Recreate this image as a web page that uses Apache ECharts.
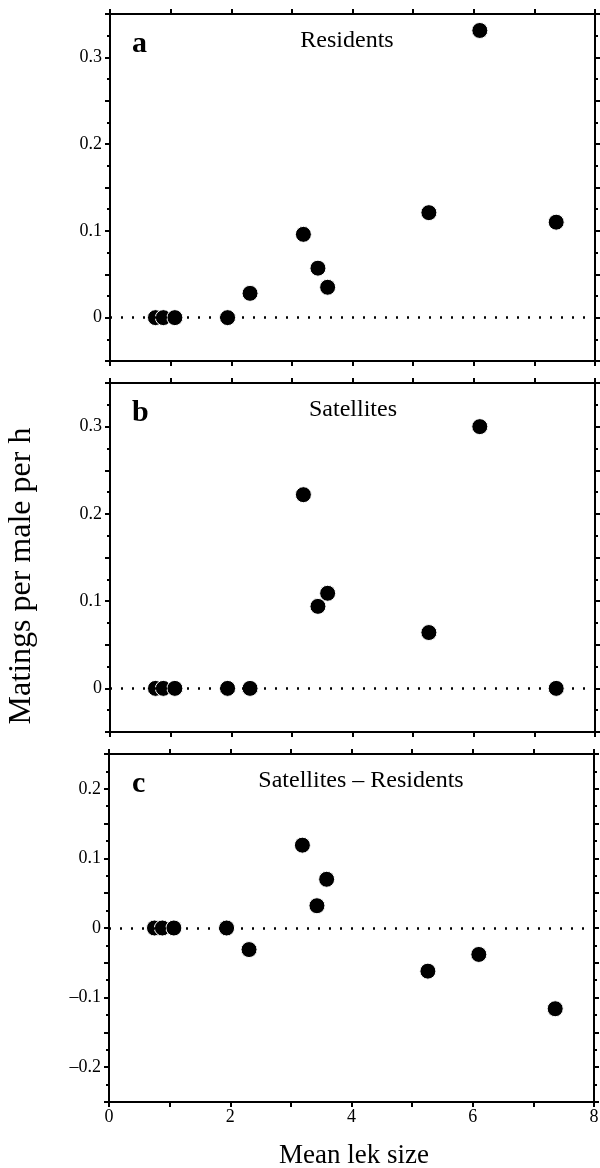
<!DOCTYPE html>
<html>
<head>
<meta charset="utf-8">
<script src="https://cdn.jsdelivr.net/npm/echarts@6/dist/echarts.min.js"></script>
<style>
  html, body { margin: 0; padding: 0; background: #fff; }
  #main { width: 600px; height: 1168px; }
</style>
</head>
<body>
<div id="main"></div>
<script>
// mean lek size of each lek (shared by the three panels)
var lekSize = [0.75, 0.88, 1.07, 1.94, 2.31, 3.19, 3.43, 3.59, 5.26, 6.1, 7.36];
// matings per male per h
var residents = [0, 0, 0, 0, 0.028, 0.096, 0.057, 0.035, 0.121, 0.331, 0.110];
var satellites = [0, 0, 0, 0, 0, 0.222, 0.094, 0.109, 0.064, 0.300, 0];
var difference = [0, 0, 0, 0, -0.031, 0.119, 0.032, 0.070, -0.062, -0.038, -0.116];

var panelLetters = ['a', 'b', 'c'];
var panelTitles = ['Residents', 'Satellites', 'Satellites \u2013 Residents'];
var yRanges = [[-0.05, 0.35], [-0.05, 0.35], [-0.25, 0.25]];
var xRange = [0, 8];

var FONT = '"Liberation Serif", "DejaVu Serif", serif';
var grids = [
  { left: 110, right: 5, top: 14, height: 347 },
  { left: 110, right: 5, top: 383, height: 349 },
  { left: 109, right: 6, top: 754, height: 348 }
];

function yLabel(v) {
  var r = Math.round(v * 10);
  if (Math.abs(v * 10 - r) > 1e-6) return '';
  if (r === 0) return '0';
  return (r < 0 ? '\u2013' : '') + (Math.abs(r) / 10).toFixed(1);
}

var lineStyle = { color: '#000', width: 2 };
var xAxes = [], yAxes = [], series = [], graphics = [];

grids.forEach(function (g, i) {
  g.outerBoundsMode = 'none';
  g.containLabel = false;
  var last = i === grids.length - 1;
  ['bottom', 'top'].forEach(function (pos) {
    xAxes.push({
      type: 'value', gridIndex: i, position: pos,
      min: xRange[0], max: xRange[1], interval: 1,
      axisLine: { show: true, onZero: false, lineStyle: lineStyle },
      axisTick: { show: true, inside: false, length: 5, lineStyle: lineStyle },
      axisLabel: {
        show: last && pos === 'bottom', margin: 6,
        color: '#000', fontFamily: FONT, fontSize: 18,
        formatter: function (v) { return v % 2 === 0 ? String(v) : ''; }
      },
      splitLine: { show: false }
    });
  });
  ['left', 'right'].forEach(function (pos) {
    yAxes.push({
      type: 'value', gridIndex: i, position: pos,
      min: yRanges[i][0], max: yRanges[i][1], interval: 0.05,
      axisLine: { show: true, onZero: false, lineStyle: lineStyle },
      axisTick: { show: true, inside: false, length: 5, lineStyle: lineStyle },
      minorTick: { show: true, splitNumber: 2, length: 3, lineStyle: { color: '#000', width: 2 } },
      axisLabel: {
        show: pos === 'left', margin: 8,
        color: '#000', fontFamily: FONT, fontSize: 18,
        formatter: yLabel
      },
      splitLine: { show: false }
    });
  });

  // dotted zero line
  series.push({
    type: 'line', xAxisIndex: i * 2, yAxisIndex: i * 2, data: [], z: 1,
    silent: true,
    markLine: {
      silent: true, symbol: ['none', 'none'], animation: false,
      label: { show: false },
      lineStyle: { color: '#000', width: 2.5, type: [2, 9] },
      emphasis: { disabled: true },
      data: [{ yAxis: 0 }]
    }
  });

  var values = [residents, satellites, difference][i];
  series.push({
    type: 'scatter', xAxisIndex: i * 2, yAxisIndex: i * 2, z: 3,
    symbol: 'circle', symbolSize: 16,
    itemStyle: { color: '#000', borderColor: '#fff', borderWidth: 1, opacity: 1 },
    data: lekSize.map(function (x, k) { return [x, values[k]]; })
  });

  graphics.push({
    type: 'text', left: 132, top: g.top + 15,
    style: { text: panelLetters[i], font: 'bold 30px ' + FONT, fill: '#000' }
  });
  graphics.push({
    type: 'text', x: [347, 353, 361][i], y: g.top + 27,
    style: { text: panelTitles[i], font: '24px ' + FONT, fill: '#000', align: 'center', verticalAlign: 'middle' }
  });
});

graphics.push({
  type: 'text', x: 22, y: 576, rotation: Math.PI / 2,
  style: { text: 'Matings per male per h', font: '32px ' + FONT, fill: '#000', align: 'center', verticalAlign: 'middle' }
});
graphics.push({
  type: 'text', x: 354, y: 1156,
  style: { text: 'Mean lek size', font: '27px ' + FONT, fill: '#000', align: 'center', verticalAlign: 'middle' }
});

var chart = echarts.init(document.getElementById('main'), null, { renderer: 'canvas' });
chart.setOption({
  animation: false,
  backgroundColor: '#fff',
  textStyle: { fontFamily: FONT },
  grid: grids,
  xAxis: xAxes,
  yAxis: yAxes,
  series: series,
  graphic: graphics
});
</script>
</body>
</html>
